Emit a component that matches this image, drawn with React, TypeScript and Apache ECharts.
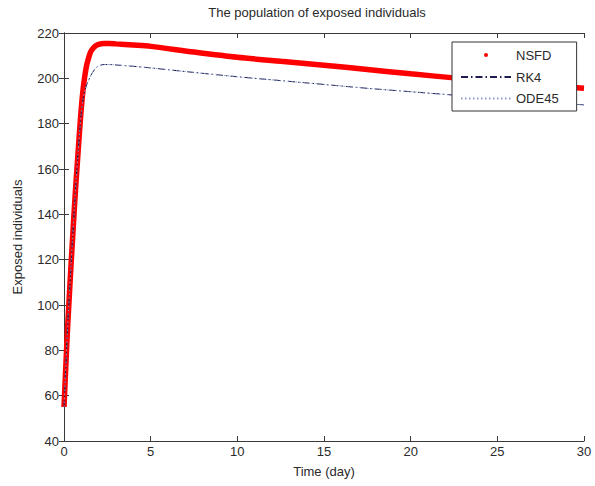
import React, { useEffect, useRef } from "react";
import * as echarts from "echarts";

const titleText = "The population of exposed individuals";
const xName = "Time (day)";
const yName = "Exposed individuals";

const tNSFD = [0, 0.1, 0.2, 0.3, 0.4, 0.5, 0.6, 0.7, 0.8, 0.9, 1.0, 1.1, 1.2, 1.3, 1.4, 1.5, 1.6, 1.8, 2.0, 2.3, 2.6, 3.0, 4, 5, 7.5, 10, 12.5, 15, 17.5, 20, 22.5, 25, 27.5, 30];
const vNSFD = [55, 72, 89, 103, 117, 130, 143, 155, 166, 177, 187, 195, 201, 205.5, 208.5, 211, 212.5, 214.2, 215, 215.4, 215.4, 215.2, 214.7, 214.1, 211.6, 209.3, 207.5, 205.8, 203.9, 202, 200.2, 198.5, 197, 195.6];

const tRK4 = [0, 0.1, 0.2, 0.3, 0.4, 0.5, 0.6, 0.7, 0.8, 0.9, 1.0, 1.1, 1.2, 1.3, 1.4, 1.5, 1.6, 1.7, 1.8, 1.9, 2.0, 2.2, 2.5, 3, 4, 5, 7.5, 10, 12.5, 15, 17.5, 20, 22.5, 25, 27.5, 30];
const vRK4 = [55, 72, 89, 103, 117, 130, 143, 155, 166, 176, 185, 191, 194.5, 197, 198.8, 200.5, 202, 203.2, 204.2, 205, 205.5, 206, 206.1, 205.9, 205.3, 204.6, 202.6, 200.7, 199, 197.3, 195.6, 194.1, 192.6, 191.1, 189.6, 188.3];

const tODE45 = tRK4;
const vODE45 = [55, 72, 89, 103, 117, 130, 143, 155, 166, 176, 185, 191, 194.5, 197, 198.8, 200.5, 202, 203.2, 204.2, 205, 205.5, 206, 206.1, 205.9, 205.3, 204.6, 202.6, 200.7, 199, 197.3, 195.6, 194.1, 192.6, 191.1, 189.6, 188.3];

const seriesNames = ["NSFD", "RK4", "ODE45"];

const FONT = "Liberation Sans";
const AXIS_COLOR = "#3a3a3a";
const TEXT_COLOR = "#2a2a2a";

const pairs = (t: number[], v: number[]) => t.map((x, i) => [x, v[i]]);

export default function App() {
  const ref = useRef<HTMLDivElement>(null);
  useEffect(() => {
    if (!ref.current) return;
    const chart = echarts.init(ref.current, undefined, { renderer: "svg" });
    const axisLine = { show: true, lineStyle: { color: AXIS_COLOR, width: 1 } };
    const tick = { show: true, inside: true, length: 5, lineStyle: { color: AXIS_COLOR } };
    chart.setOption({
      animation: false,
      backgroundColor: "#ffffff",
      title: {
        text: titleText,
        left: 312,
        top: 1,
        textAlign: "center",
        textStyle: { fontFamily: FONT, fontSize: 13, fontWeight: "normal", color: TEXT_COLOR },
      },
      grid: { left: 64, right: 11, top: 33, bottom: 45, containLabel: false },
      legend: {
        orient: "vertical",
        left: 452,
        top: 42,
        z: 20,
        itemWidth: 50,
        itemHeight: 14,
        itemGap: 8.5,
        padding: [6, 18, 6, 8],
        backgroundColor: "#ffffff",
        borderColor: "#333333",
        borderWidth: 1,
        borderRadius: 0,
        textStyle: { fontFamily: FONT, fontSize: 13, color: TEXT_COLOR },
        data: [
          {
            name: seriesNames[0],
            icon: "path://M0,0M50,14M23,7a2,2 0 1,0 4,0a2,2 0 1,0 -4,0z",
            itemStyle: { color: "#ff0000", opacity: 1, borderWidth: 0 },
          },
          { name: seriesNames[1], itemStyle: { opacity: 0 } },
          { name: seriesNames[2], itemStyle: { opacity: 0 } },
        ],
      },
      xAxis: [
        {
          type: "value",
          min: 0,
          max: 30,
          interval: 5,
          name: xName,
          nameLocation: "middle",
          nameGap: 24,
          nameTextStyle: { fontFamily: FONT, fontSize: 13, color: TEXT_COLOR },
          axisLine,
          axisTick: tick,
          axisLabel: { fontFamily: FONT, fontSize: 13, color: TEXT_COLOR, margin: 4 },
          splitLine: { show: false },
        },
        {
          type: "value",
          position: "top",
          min: 0,
          max: 30,
          interval: 5,
          axisLine,
          axisTick: tick,
          axisLabel: { show: false },
          splitLine: { show: false },
        },
      ],
      yAxis: [
        {
          type: "value",
          min: 40,
          max: 220,
          interval: 20,
          name: yName,
          nameLocation: "middle",
          nameGap: 40,
          nameTextStyle: { fontFamily: FONT, fontSize: 13, color: TEXT_COLOR },
          axisLine,
          axisTick: tick,
          axisLabel: { fontFamily: FONT, fontSize: 13, color: TEXT_COLOR, margin: 5 },
          splitLine: { show: false },
        },
        {
          type: "value",
          position: "right",
          min: 40,
          max: 220,
          interval: 20,
          axisLine,
          axisTick: tick,
          axisLabel: { show: false },
          splitLine: { show: false },
        },
      ],
      series: [
        {
          name: seriesNames[0],
          type: "line",
          data: pairs(tNSFD, vNSFD),
          symbol: "none",
          smooth: 0.3,
          color: "#ff0000",
          lineStyle: { color: "#ff0000", width: 5.5 },
          z: 2,
        },
        {
          name: seriesNames[1],
          type: "line",
          data: pairs(tRK4, vRK4),
          symbol: "none",
          smooth: 0.3,
          color: "#1c1c50",
          lineStyle: { color: "#1c1c50", width: 1, type: [7, 3, 1.5, 3] },
          z: 2,
        },
        {
          name: seriesNames[2],
          type: "line",
          data: pairs(tODE45, vODE45),
          symbol: "none",
          smooth: 0.3,
          color: "#8a98cc",
          lineStyle: { color: "#8a98cc", width: 1, type: [1.5, 2.5] },
          z: 2,
        },
      ],
    });
    return () => chart.dispose();
  }, []);
  return (
    <div
      ref={ref}
      style={{ position: "fixed", left: 0, top: 0, width: 595, height: 486 }}
    />
  );
}
